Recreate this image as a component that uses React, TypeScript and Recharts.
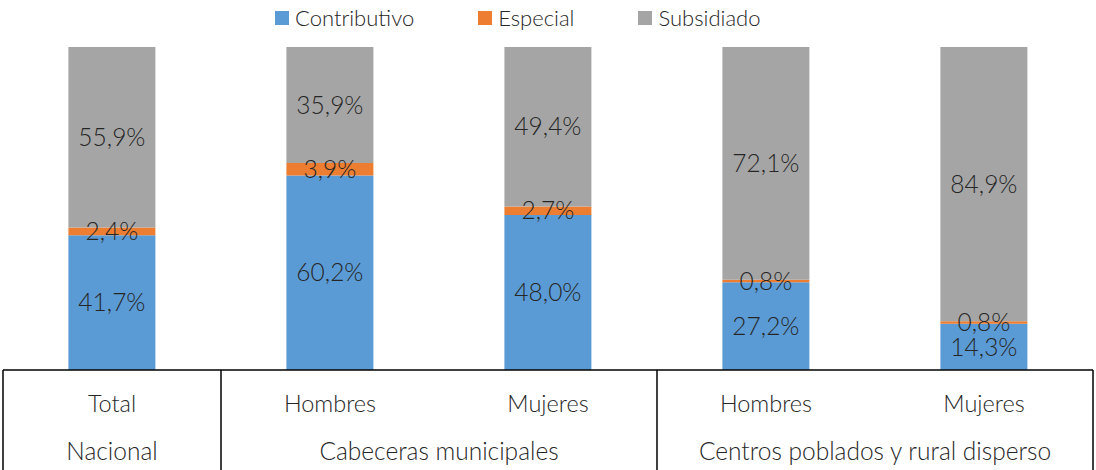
import React from 'react';
import { BarChart, Bar, XAxis, YAxis, LabelList } from 'recharts';

const categories = ['Total', 'Hombres', 'Mujeres', 'Hombres', 'Mujeres'];
const groups = ['Nacional', 'Cabeceras municipales', 'Centros poblados y rural disperso'];
const groupSpans = [1, 2, 2];
const contributivo = [41.7, 60.2, 48.0, 27.2, 14.3];
const especial = [2.4, 3.9, 2.7, 0.8, 0.8];
const subsidiado = [55.9, 35.9, 49.4, 72.1, 84.9];
const seriesNames = ['Contributivo', 'Especial', 'Subsidiado'];
const seriesKeys = ['contributivo', 'especial', 'subsidiado'];
const colors = ['#5B9BD5', '#ED7D31', '#A5A5A5'];

const data = categories.map((c, i) => ({
  name: c,
  contributivo: contributivo[i],
  especial: especial[i],
  subsidiado: subsidiado[i],
}));

const W = 1096;
const H = 470;
const M = { top: 47, right: 3, bottom: 0, left: 3 };
const XH = 100;
const FONT = "Lato, 'Open Sans', sans-serif";
const TEXT = '#262626';
const band = (W - M.left - M.right) / categories.length;
const axisY = H - M.bottom - XH;

const groupStarts: number[] = [];
{
  let s = 0;
  groupSpans.forEach((n) => {
    groupStarts.push(s);
    s += n;
  });
}

const fmt = (v: any) => `${Number(v).toFixed(1).replace('.', ',')}%`;

const Tick = (props: any) => {
  const { x, payload } = props;
  const idx = payload.index;
  const g = groupStarts.indexOf(idx);
  const els: any[] = [];
  els.push(
    <text key="l" x={x} y={axisY + 42} textAnchor="middle" fontSize={23.5} fontWeight={300} fontFamily={FONT} fill={TEXT}>
      {payload.value}
    </text>
  );
  if (g >= 0) {
    const left = x - band / 2;
    const cx = left + (groupSpans[g] * band) / 2;
    els.push(<line key="v" x1={left} x2={left} y1={axisY} y2={H} stroke="#000" strokeWidth={1.5} />);
    els.push(
      <text key="g" x={cx} y={axisY + 90} textAnchor="middle" fontSize={24.5} fontWeight={300} fontFamily={FONT} fill={TEXT}>
        {groups[g]}
      </text>
    );
    if (g === groups.length - 1) {
      const right = left + groupSpans[g] * band;
      els.push(<line key="r" x1={right} x2={right} y1={axisY} y2={H} stroke="#000" strokeWidth={1.5} />);
    }
  }
  return <g>{els}</g>;
};

export default function App() {
  return (
    <div style={{ position: 'absolute', left: 0, top: 0, width: W, height: H, background: '#fff' }}>
      <div
        style={{
          position: 'absolute',
          top: 3,
          left: 275,
          display: 'flex',
          justifyContent: 'flex-start',
          gap: 64,
          fontFamily: FONT,
          fontWeight: 300,
          fontSize: 22,
          color: TEXT,
          lineHeight: '30px',
        }}
      >
        {seriesNames.map((s, i) => (
          <div key={s} style={{ display: 'flex', alignItems: 'center' }}>
            <span style={{ display: 'inline-block', width: 14, height: 14, background: colors[i], marginRight: 6 }} />
            <span>{s}</span>
          </div>
        ))}
      </div>
      <BarChart width={W} height={H} data={data} margin={M} stackOffset="expand" barCategoryGap="30%">
        <YAxis hide domain={[0, 1]} />
        <XAxis
          dataKey="name"
          height={XH}
          axisLine={{ stroke: '#000', strokeWidth: 1.5 }}
          tickLine={false}
          tick={<Tick />}
          interval={0}
        />
        {seriesKeys.map((k, i) => (
          <Bar key={k} dataKey={k} name={seriesNames[i]} stackId="a" fill={colors[i]} isAnimationActive={false}>
            <LabelList dataKey={k} position="center" formatter={fmt} fill={TEXT} fontSize={24.5} fontWeight={300} fontFamily={FONT} />
          </Bar>
        ))}
      </BarChart>
    </div>
  );
}
